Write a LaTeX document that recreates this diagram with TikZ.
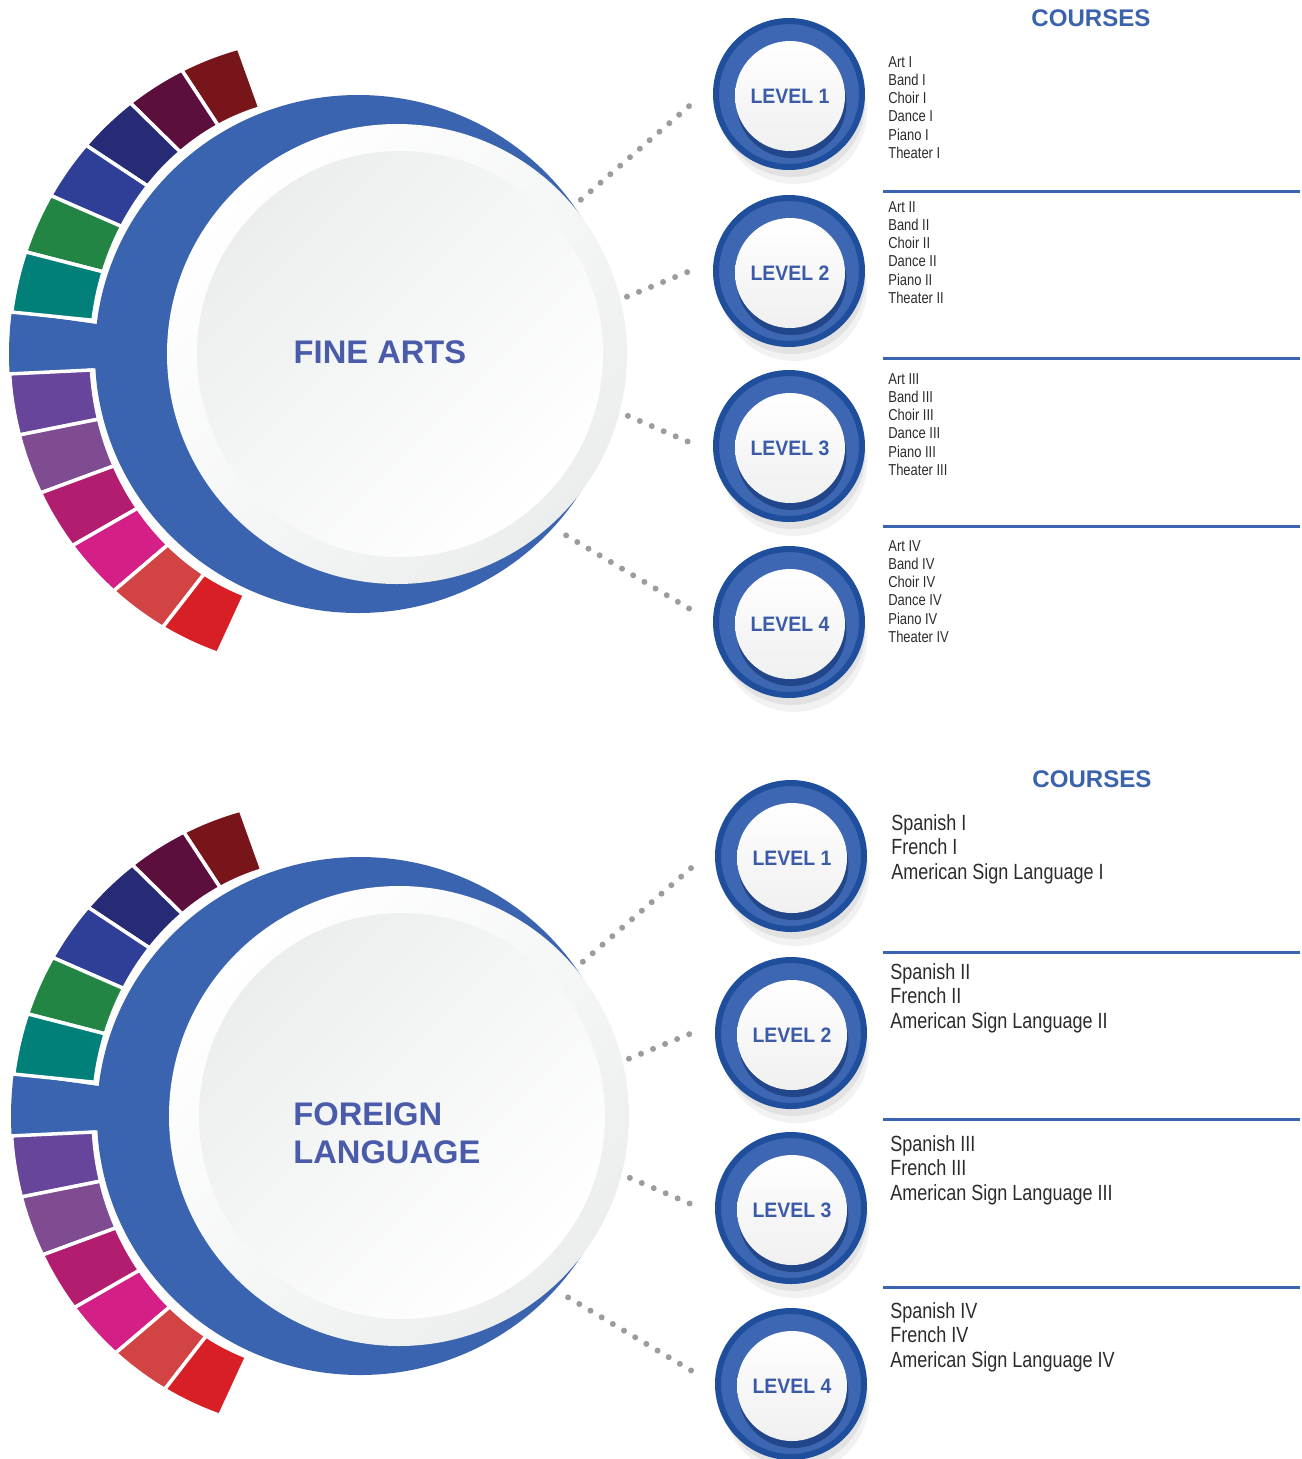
\documentclass[tikz,border=0pt]{standalone}
\usepackage{fontspec}
\setmainfont{Liberation Sans}
\newfontfamily\narrowsf[FakeStretch=0.82]{Liberation Sans}
\newfontfamily\levelsf[FakeStretch=0.93]{Liberation Sans}
\usetikzlibrary{shadows, calc}

\definecolor{bandBlue}{HTML}{3A64AF}
\definecolor{lvDark}{HTML}{1E4E9C}
\definecolor{lvMid}{HTML}{3D67B2}
\definecolor{lvDeep}{HTML}{16397A}
\definecolor{lvText}{HTML}{3B5BA9}
\definecolor{headBlue}{HTML}{3A62AD}
\definecolor{titleBlue}{HTML}{4A5BAA}
\definecolor{textGray}{HTML}{2B2B2B}
\definecolor{dotGray}{HTML}{9C9C9E}
\definecolor{faRim}{HTML}{ECEEEE}
\definecolor{sgA}{HTML}{78151A}
\definecolor{sgB}{HTML}{5C0E3D}
\definecolor{sgC}{HTML}{272A74}
\definecolor{sgD}{HTML}{2F3F97}
\definecolor{sgE}{HTML}{228543}
\definecolor{sgF}{HTML}{008079}
\definecolor{sgG}{HTML}{66459A}
\definecolor{sgH}{HTML}{7F4B91}
\definecolor{sgI}{HTML}{B21D6F}
\definecolor{sgJ}{HTML}{D31F86}
\definecolor{sgK}{HTML}{D24443}
\definecolor{sgL}{HTML}{D91F26}

\begin{document}
\begin{tikzpicture}[x=0.2mm, y=0.2mm]
  \tikzstyle{band}=[fill=bandBlue]
  \tikzstyle{segment}=[draw=white, line width=0.7mm]
  \tikzstyle{face}=[circle, inner sep=0, outer sep=0, minimum size=92mm, top color=white, bottom color=faRim, shading angle=45]
  \tikzstyle{lens}=[circle, inner sep=0, outer sep=0, minimum size=81.2mm, top color=faRim, bottom color=white, shading angle=45]
  \tikzstyle{lvring}=[circle, inner sep=0, outer sep=0, minimum size=29.2mm, fill=lvMid, draw=lvDark, line width=1.2mm,
    drop shadow={shadow xshift=1mm, shadow yshift=-3.4mm, opacity=0.1},
    drop shadow={shadow xshift=0.6mm, shadow yshift=-2mm, opacity=0.14}]
  \tikzstyle{lvface}=[circle, inner sep=0, minimum size=22mm, top color=white, bottom color=gray!12, text=lvText, font=\levelsf\bfseries\fontsize{11.9}{14}\selectfont, drop shadow={shadow xshift=0.3mm, shadow yshift=-1.4mm, fill=lvDeep, opacity=0.7}]
  \tikzstyle{dotline}=[dotGray, line width=1.2mm, line cap=round, dash pattern=on 0pt off 2.6mm]
  \tikzstyle{rule}=[bandBlue, line width=0.6mm]
  \tikzstyle{heading}=[headBlue, inner sep=0, font=\bfseries\fontsize{13.7}{16}\selectfont]
  \tikzstyle{title}=[titleBlue, inner sep=0, font=\bfseries\fontsize{18.6}{21.8}\selectfont]
  \tikzstyle{small list}=[anchor=north west, inner sep=0, align=left, textGray, font=\narrowsf\fontsize{9}{10.36}\selectfont]
  \tikzstyle{big list}=[anchor=north west, inner sep=0, align=left, textGray, font=\narrowsf\fontsize{12.5}{13.94}\selectfont]

  \useasboundingbox (0,0) rectangle (1302,-1459);

  \foreach \dx/\dy/\p in {0/0/fa, 2/762/fl} {
    \begin{scope}[shift={(\dx,-\dy)}]
      \fill[band] (358,-354) ellipse [x radius=263, y radius=259]; % Blue crescent
      \begin{scope}[shift={(320,-354)}]
        \fill[band] (172.4:200) -- (172.4:311 and 317) arc[start angle=172.4, end angle=183.6, x radius=311, y radius=317] -- (183.6:200) -- cycle; % Blue tab
        \foreach \k/\col in {0/sgA, 1/sgB, 2/sgC, 3/sgD, 4/sgE, 5/sgF, 7/sgG, 8/sgH, 9/sgI, 10/sgJ, 11/sgK, 12/sgL} {
          \pgfmathsetmacro\a{105.2+\k*11.2}
          \pgfmathsetmacro\b{\a+11.2}
          \filldraw[segment, fill=\col] (\a:229 and 255) -- (\a:311 and 317) arc[start angle=\a, end angle=\b, x radius=311, y radius=317] -- (\b:229 and 255) arc[start angle=\b, end angle=\a, x radius=229, y radius=255] -- cycle;
        }
      \end{scope}
      \node[face] (\p) at (397,-354) {}; % Big white disk
      \node[lens] at (400,-354) {}; % Inner shaded disk
      \foreach \n/\y in {1/94, 2/271, 3/446, 4/622} {
        \node[lvring] (\p\n) at (789,-\y) {};
        \node[lvface] at ([shift={(1,-2)}]\p\n.center) {LEVEL \n};
      }
    \end{scope}
    \draw[dotline] ($(\p)+(40:240)$) -- ($(\p1)+(185:96)$); % Level 1 dots
    \draw[dotline] ($(\p)+(14:237)$) -- ($(\p2)+(180:99)$); % Level 2 dots
    \draw[dotline] ($(\p)+(-15:239)$) -- ($(\p3)+(178:99)$); % Level 3 dots
    \draw[dotline] ($(\p)+(-47:248)$) -- ($(\p4)+(173:98)$); % Level 4 dots
  }

  \node[title] (T1) at (380,-352) {FINE ARTS};
  \node[title, anchor=north west, align=left] (T2) at (293,-1102) {FOREIGN\\LANGUAGE};

  \node[heading] (C1) at (1091,-18) {COURSES};
  \node[heading] (C2) at (1092,-779) {COURSES};

  \node[small list] (A1) at (888,-56) {Art I\\Band I\\Choir I\\Dance I\\Piano I\\Theater I};
  \node[small list] (A2) at (888,-201) {Art II\\Band II\\Choir II\\Dance II\\Piano II\\Theater II};
  \node[small list] (A3) at (888,-373) {Art III\\Band III\\Choir III\\Dance III\\Piano III\\Theater III};
  \node[small list] (A4) at (888,-540) {Art IV\\Band IV\\Choir IV\\Dance IV\\Piano IV\\Theater IV};
  \draw[rule] (883,-191) -- (1300,-191);
  \draw[rule] (883,-358) -- (1300,-358);
  \draw[rule] (883,-526) -- (1300,-526);

  \node[big list] (S1) at (891,-814) {Spanish I\\French I\\American Sign Language I};
  \node[big list] (S2) at (890,-963) {Spanish II\\French II\\American Sign Language II};
  \node[big list] (S3) at (890,-1135) {Spanish III\\French III\\American Sign Language III};
  \node[big list] (S4) at (890,-1302) {Spanish IV\\French IV\\American Sign Language IV};
  \draw[rule] (883,-952) -- (1300,-952);
  \draw[rule] (883,-1119) -- (1300,-1119);
  \draw[rule] (883,-1287) -- (1300,-1287);
\end{tikzpicture}
\end{document}
